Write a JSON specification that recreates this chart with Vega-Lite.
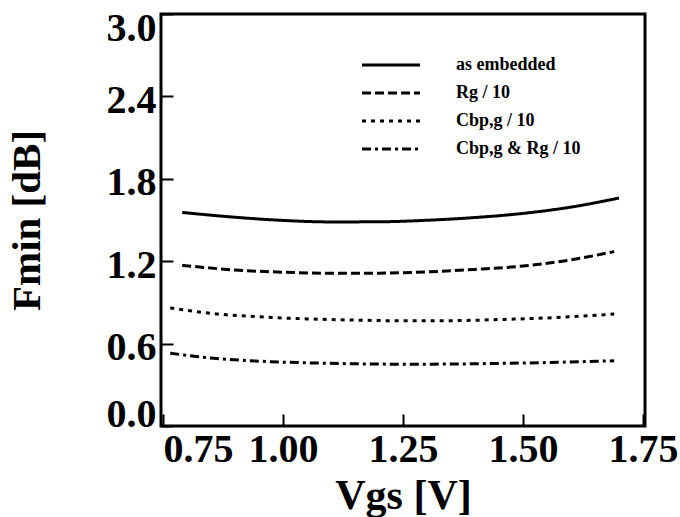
{
  "$schema": "https://vega.github.io/schema/vega-lite/v6.json",
  "autosize": {"type": "none"},
  "padding": {"left": 161, "top": 14, "right": 35, "bottom": 91},
  "width": 484,
  "height": 412,
  "background": "white",
  "config": {
    "view": {"stroke": "black", "strokeWidth": 3},
    "font": "Liberation Serif"
  },
  "data": {
    "values": [
      {"series": "as embedded", "vgs": 0.79, "fmin": 1.555},
      {"series": "as embedded", "vgs": 0.9, "fmin": 1.52},
      {"series": "as embedded", "vgs": 1.0, "fmin": 1.497},
      {"series": "as embedded", "vgs": 1.1, "fmin": 1.486},
      {"series": "as embedded", "vgs": 1.2, "fmin": 1.487},
      {"series": "as embedded", "vgs": 1.3, "fmin": 1.498},
      {"series": "as embedded", "vgs": 1.4, "fmin": 1.518},
      {"series": "as embedded", "vgs": 1.5, "fmin": 1.548},
      {"series": "as embedded", "vgs": 1.6, "fmin": 1.594},
      {"series": "as embedded", "vgs": 1.7, "fmin": 1.66},
      {"series": "Rg / 10", "vgs": 0.79, "fmin": 1.17},
      {"series": "Rg / 10", "vgs": 0.9, "fmin": 1.136},
      {"series": "Rg / 10", "vgs": 1.0, "fmin": 1.12},
      {"series": "Rg / 10", "vgs": 1.1, "fmin": 1.112},
      {"series": "Rg / 10", "vgs": 1.2, "fmin": 1.113},
      {"series": "Rg / 10", "vgs": 1.3, "fmin": 1.122},
      {"series": "Rg / 10", "vgs": 1.4, "fmin": 1.14},
      {"series": "Rg / 10", "vgs": 1.5, "fmin": 1.165},
      {"series": "Rg / 10", "vgs": 1.6, "fmin": 1.21},
      {"series": "Rg / 10", "vgs": 1.69, "fmin": 1.27},
      {"series": "Cbp,g / 10", "vgs": 0.765, "fmin": 0.86},
      {"series": "Cbp,g / 10", "vgs": 0.85, "fmin": 0.82},
      {"series": "Cbp,g / 10", "vgs": 0.95, "fmin": 0.795},
      {"series": "Cbp,g / 10", "vgs": 1.05, "fmin": 0.78},
      {"series": "Cbp,g / 10", "vgs": 1.15, "fmin": 0.771},
      {"series": "Cbp,g / 10", "vgs": 1.25, "fmin": 0.766},
      {"series": "Cbp,g / 10", "vgs": 1.35, "fmin": 0.767},
      {"series": "Cbp,g / 10", "vgs": 1.45, "fmin": 0.775},
      {"series": "Cbp,g / 10", "vgs": 1.55, "fmin": 0.787},
      {"series": "Cbp,g / 10", "vgs": 1.69, "fmin": 0.815},
      {"series": "Cbp,g & Rg / 10", "vgs": 0.765, "fmin": 0.53},
      {"series": "Cbp,g & Rg / 10", "vgs": 0.85, "fmin": 0.495},
      {"series": "Cbp,g & Rg / 10", "vgs": 0.95, "fmin": 0.472},
      {"series": "Cbp,g & Rg / 10", "vgs": 1.05, "fmin": 0.46},
      {"series": "Cbp,g & Rg / 10", "vgs": 1.15, "fmin": 0.453},
      {"series": "Cbp,g & Rg / 10", "vgs": 1.25, "fmin": 0.45},
      {"series": "Cbp,g & Rg / 10", "vgs": 1.35, "fmin": 0.451},
      {"series": "Cbp,g & Rg / 10", "vgs": 1.45, "fmin": 0.456},
      {"series": "Cbp,g & Rg / 10", "vgs": 1.55, "fmin": 0.462},
      {"series": "Cbp,g & Rg / 10", "vgs": 1.69, "fmin": 0.475}
    ]
  },
  "mark": {"type": "line", "color": "black", "strokeWidth": 3, "interpolate": "monotone", "clip": true},
  "encoding": {
    "x": {
      "field": "vgs", "type": "quantitative",
      "scale": {"domain": [0.7458, 1.7542], "nice": false, "zero": false},
      "axis": {
        "title": "Vgs [V]",
        "values": [0.75, 1.0, 1.25, 1.5, 1.75],
        "format": ".2f",
        "domain": false, "grid": false,
        "tickSize": -12, "tickWidth": 2, "tickColor": "black",
        "labelFont": "Liberation Serif", "labelFontWeight": "bold", "labelFontSize": 40, "labelColor": "black",
        "labelPadding": 15,
        "labelAlign": {"condition": {"test": "datum.value == 0.75", "value": "left"}, "value": "center"},
        "labelOverlap": false,
        "titleFont": "Liberation Serif", "titleFontWeight": "bold", "titleFontSize": 42, "titleColor": "black",
        "titlePadding": 6
      }
    },
    "y": {
      "field": "fmin", "type": "quantitative",
      "scale": {"domain": [0, 3], "nice": false},
      "axis": {
        "title": "Fmin [dB]",
        "values": [0, 0.6, 1.2, 1.8, 2.4, 3.0],
        "format": ".1f",
        "domain": false, "grid": false,
        "tickSize": -12, "tickWidth": 2, "tickColor": "black",
        "labelFont": "Liberation Serif", "labelFontWeight": "bold", "labelFontSize": 40, "labelColor": "black",
        "labelPadding": 17,
        "labelOverlap": false,
        "labelBaseline": "middle",
        "labelOffset": {"condition": [{"test": "datum.value == 0", "value": -12}, {"test": "datum.value == 3", "value": 14}], "value": 4},
        "titleFont": "Liberation Serif", "titleFontWeight": "bold", "titleFontSize": 41, "titleColor": "black",
        "titlePadding": 58
      }
    },
    "strokeDash": {
      "field": "series", "type": "nominal",
      "scale": {
        "domain": ["as embedded", "Rg / 10", "Cbp,g / 10", "Cbp,g & Rg / 10"],
        "range": [[1, 0], [9, 4], [4, 5], [9, 4, 3, 4]]
      },
      "legend": {
        "title": null,
        "orient": "none",
        "legendX": 221,
        "legendY": 42,
        "symbolType": "M-4,0H4",
        "symbolSize": 210,
        "symbolStrokeWidth": 3,
        "symbolStrokeColor": "black",
        "labelFont": "Liberation Serif",
        "labelFontWeight": "bold",
        "labelFontSize": 18,
        "labelColor": "black",
        "labelOffset": 56,
        "rowPadding": 10
      }
    }
  }
}
